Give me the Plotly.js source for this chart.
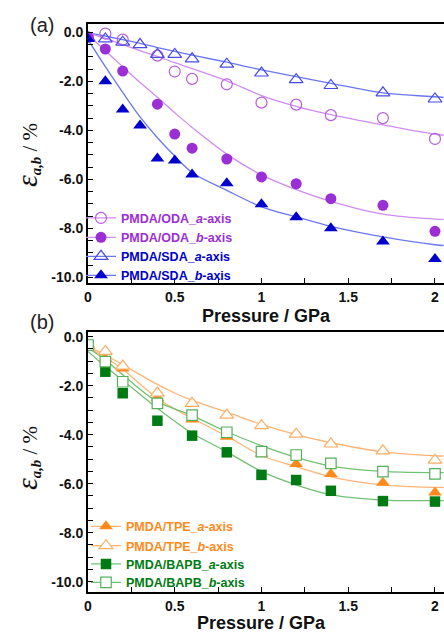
<!DOCTYPE html>
<html>
<head>
<meta charset="utf-8">
<script src="https://cdn.plot.ly/plotly-3.0.1.min.js"></script>
<style>html,body{margin:0;padding:0;background:#fff;}#chart{width:444px;height:632px;}</style>
</head>
<body>
<div id="chart"></div>
<script>
// ---------- Panel (a) data ----------
const xODA = [0, 0.1, 0.2, 0.4, 0.5, 0.6, 0.8, 1.0, 1.2, 1.4, 1.7, 2.0];
const odaA = [-0.2, -0.05, -0.3, -0.95, -1.6, -1.9, -2.12, -2.87, -2.95, -3.38, -3.5, -4.35];
const odaB = [-0.2, -0.68, -1.58, -2.93, -4.15, -4.73, -5.17, -5.9, -6.18, -6.79, -7.06, -8.12];
const xSDA = [0, 0.1, 0.2, 0.3, 0.4, 0.5, 0.6, 0.8, 1.0, 1.2, 1.4, 1.7, 2.0];
const sdaA = [-0.22, -0.27, -0.4, -0.5, -0.9, -0.9, -1.08, -1.3, -1.66, -1.93, -2.17, -2.47, -2.72];
const sdaB = [-0.27, -2.0, -3.15, -3.8, -5.15, -5.23, -5.8, -6.16, -7.02, -7.55, -8.0, -8.54, -9.25];
// fitted curves (a)
const fitXA = [0, 0.1, 0.2, 0.3, 0.4, 0.5, 0.6, 0.8, 1.0, 1.2, 1.4, 1.7, 2.0, 2.05];
const fitOdaA = [-0.02, -0.25, -0.5, -0.75, -0.98, -1.24, -1.48, -1.98, -2.58, -3.02, -3.36, -3.78, -4.16, -4.2];
const fitOdaB = [-0.1, -0.75, -1.4, -2.05, -2.65, -3.28, -3.88, -4.97, -5.82, -6.42, -6.9, -7.42, -7.62, -7.63];
const fitSdaA = [-0.02, -0.15, -0.3, -0.45, -0.62, -0.78, -0.93, -1.22, -1.53, -1.81, -2.08, -2.47, -2.63, -2.66];
const fitSdaB = [-0.3, -1.4, -2.45, -3.45, -4.3, -5.05, -5.72, -6.45, -7.12, -7.53, -7.92, -8.35, -8.67, -8.7];

// ---------- Panel (b) data ----------
const xB = [0, 0.1, 0.2, 0.4, 0.6, 0.8, 1.0, 1.2, 1.4, 1.7, 2.0];
const tpeA = [-0.35, -0.9, -1.3, -2.5, -3.38, -4.08, -4.78, -5.2, -5.6, -5.96, -6.36];
const tpeB = [-0.35, -0.6, -1.2, -2.3, -2.72, -3.2, -3.63, -3.98, -4.38, -4.66, -5.04];
const bapbA = [-0.35, -1.43, -2.31, -3.43, -4.04, -4.72, -5.64, -5.85, -6.29, -6.71, -6.73];
const bapbB = [-0.34, -1.02, -1.84, -2.72, -3.2, -3.9, -4.69, -4.83, -5.17, -5.51, -5.6];
// fitted curves (b)
const fitXB = [0, 0.1, 0.2, 0.3, 0.4, 0.5, 0.6, 0.8, 1.0, 1.2, 1.4, 1.7, 2.0, 2.05];
const fitTpeA = [-0.43, -0.85, -1.33, -1.93, -2.52, -2.95, -3.33, -4.06, -4.85, -5.3, -5.72, -6.05, -6.15, -6.15];
const fitTpeB = [-0.4, -0.75, -1.15, -1.55, -1.95, -2.3, -2.6, -3.08, -3.58, -4.0, -4.33, -4.7, -4.86, -4.87];
const fitBapbA = [-0.6, -1.22, -1.78, -2.35, -2.92, -3.45, -3.94, -4.7, -5.5, -6.05, -6.45, -6.67, -6.69, -6.69];
const fitBapbB = [-0.45, -0.95, -1.55, -2.15, -2.65, -2.95, -3.22, -3.88, -4.45, -4.93, -5.28, -5.5, -5.55, -5.55];

// ---------- labels ----------
const xTickVals = [0, 0.5, 1, 1.5, 2];
const xTickText = ["0", "0.5", "1", "1.5", "2"];
const yTickVals = [0, -2, -4, -6, -8, -10];
const yTickText = ["0.0", "-2.0", "-4.0", "-6.0", "-8.0", "-10.0"];
const xTitle = "Pressure / GPa";
const yTitle = '<span style="font-size:30px"><i>ε</i></span><sub><b><i>a,b</i></b></sub> / %';
const namesA = ["PMDA/ODA_<i>a</i>-axis", "PMDA/ODA_<i>b</i>-axis", "PMDA/SDA_<i>a</i>-axis", "PMDA/SDA_<i>b</i>-axis"];
const namesB = ["PMDA/TPE_<i>a</i>-axis", "PMDA/TPE_<i>b</i>-axis", "PMDA/BAPB_<i>a</i>-axis", "PMDA/BAPB_<i>b</i>-axis"];

const C = {
  purple: '#9a2fd6', purpleOpen: '#b65fe0', purpleLine: '#cf8cef',
  blue: '#0000cc', blueOpen: '#4a4ae8', blueLine: '#6a78ee',
  orange: '#ff8a1c', orangeOpen: '#ffae63', orangeLine: '#ffb477',
  green: '#007a12', greenOpen: '#55b05a', greenLine: '#72c074'
};

const traces = [];
function fit(x, y, color, xa, ya) {
  traces.push({x: x, y: y, mode: 'lines', line: {color: color, width: 1.3, shape: 'spline'}, showlegend: false, hoverinfo: 'skip', xaxis: xa, yaxis: ya});
}
// style: 'filled' | 'open' (transparent) | 'white' (white-filled outline)
function mk(sym, size, color, style) {
  if (style === 'filled') return {symbol: sym, size: size, color: color, line: {width: 0}};
  if (style === 'open') return {symbol: sym + '-open', size: size, color: color, line: {color: color, width: 1.2}};
  return {symbol: sym, size: size, color: '#ffffff', line: {color: color, width: 1.2}};
}
function pts(x, y, marker, xa, ya) {
  traces.push({x: x, y: y, mode: 'markers', showlegend: false, xaxis: xa, yaxis: ya, marker: marker});
}
function leg(name, marker, lineColor, xa, ya, legendId) {
  traces.push({x: [null], y: [null], mode: 'lines+markers', name: name, legend: legendId, xaxis: xa, yaxis: ya,
    line: {color: lineColor, width: 1.3}, marker: marker});
}

// panel (a)
fit(fitXA, fitSdaA, C.blueLine, 'x', 'y');
fit(fitXA, fitOdaA, C.purpleLine, 'x', 'y');
fit(fitXA, fitOdaB, C.purpleLine, 'x', 'y');
fit(fitXA, fitSdaB, C.blueLine, 'x', 'y');
pts(xODA, odaA, mk('circle', 11, C.purpleOpen, 'open'), 'x', 'y');
pts(xSDA, sdaA, mk('triangle-up', 12, C.blueOpen, 'open'), 'x', 'y');
pts(xODA, odaB, mk('circle', 11, C.purple, 'filled'), 'x', 'y');
pts(xSDA, sdaB, mk('triangle-up', 12, C.blue, 'filled'), 'x', 'y');
leg(namesA[0], mk('circle', 11, C.purpleOpen, 'open'), C.purpleLine, 'x', 'y', 'legend');
leg(namesA[1], mk('circle', 11, C.purple, 'filled'), C.purpleLine, 'x', 'y', 'legend2');
leg(namesA[2], mk('triangle-up', 12, C.blueOpen, 'open'), C.blueLine, 'x', 'y', 'legend3');
leg(namesA[3], mk('triangle-up', 12, C.blue, 'filled'), C.blueLine, 'x', 'y', 'legend4');

// panel (b)
fit(fitXB, fitTpeB, C.orangeLine, 'x2', 'y2');
fit(fitXB, fitTpeA, C.orangeLine, 'x2', 'y2');
fit(fitXB, fitBapbB, C.greenLine, 'x2', 'y2');
fit(fitXB, fitBapbA, C.greenLine, 'x2', 'y2');
pts(xB, tpeA, mk('triangle-up', 12, C.orange, 'filled'), 'x2', 'y2');
pts(xB, bapbA, mk('square', 10.5, C.green, 'filled'), 'x2', 'y2');
pts(xB, tpeB, mk('triangle-up', 12, C.orangeOpen, 'white'), 'x2', 'y2');
pts(xB, bapbB, mk('square', 10.5, C.greenOpen, 'white'), 'x2', 'y2');
leg(namesB[0], mk('triangle-up', 12, C.orange, 'filled'), C.orangeLine, 'x2', 'y2', 'legend5');
leg(namesB[1], mk('triangle-up', 12, C.orangeOpen, 'white'), C.orangeLine, 'x2', 'y2', 'legend6');
leg(namesB[2], mk('square', 10.5, C.green, 'filled'), C.greenLine, 'x2', 'y2', 'legend7');
leg(namesB[3], mk('square', 10.5, C.greenOpen, 'white'), C.greenLine, 'x2', 'y2', 'legend8');

// ---------- layout ----------
const W = 444, H = 632, ML = 88, MR = 0, MT = 24, MB = 40;
const PH = H - MT - MB, PW = W - ML - MR;
const py = v => (H - MB - v) / PH;   // pixel y -> paper
const px = v => (v - ML) / PW;       // pixel x -> paper

const SANS = 'Liberation Sans, Arial, sans-serif';
const tickFont = {family: SANS, size: 14, color: '#111', weight: 'bold'};
const titleFont = {family: SANS, size: 18, color: '#111', weight: 'bold'};

function xAxis(anchor, withTitle) {
  const ax = {
    anchor: anchor, range: [0, 2.052], tickmode: 'array', tickvals: xTickVals, ticktext: xTickText,
    ticks: 'inside', ticklen: 5, tickwidth: 1, tickcolor: '#000',
    minor: {tickmode: 'linear', tick0: 0, dtick: 0.25, ticks: 'inside', ticklen: 5, tickcolor: '#000', showgrid: false},
    showline: true, linecolor: '#000', linewidth: 2, mirror: true, showgrid: false, zeroline: false,
    tickfont: tickFont
  };
  if (withTitle) ax.title = {text: xTitle, font: titleFont, standoff: 6};
  return ax;
}
function yAxis(anchor, domain, range) {
  return {
    anchor: anchor, domain: domain, range: range, tickmode: 'array', tickvals: yTickVals, ticktext: yTickText,
    ticks: 'inside', ticklen: 5, tickwidth: 1, tickcolor: '#000',
    minor: {tickmode: 'linear', tick0: 0, dtick: 0.5, ticks: 'inside', ticklen: 5, tickcolor: '#000', showgrid: false},
    showline: true, linecolor: '#000', linewidth: 2, showgrid: false, zeroline: false,
    tickfont: tickFont
  };
}
function legendAt(xpix, ypix, color) {
  return {x: px(xpix), y: py(ypix), xanchor: 'left', yanchor: 'middle', bgcolor: 'rgba(0,0,0,0)', borderwidth: 0,
    font: {family: SANS, size: 12.5, color: color, weight: 'bold'}, itemclick: false};
}
function yTitleAnn(ycenter) {
  return {text: yTitle, xref: 'paper', yref: 'paper', x: px(27), y: py(ycenter), showarrow: false, textangle: -90,
    xanchor: 'center', yanchor: 'middle', font: {family: 'Liberation Serif, Times New Roman, serif', size: 21, color: '#111'}};
}

const layout = {
  width: W, height: H, margin: {l: ML, r: MR, t: MT, b: MB},
  paper_bgcolor: '#fff', plot_bgcolor: '#fff',
  xaxis: xAxis('y', true),
  yaxis: yAxis('x', [py(283), 1], [-10.23, 0.34]),
  xaxis2: xAxis('y2', false),
  yaxis2: yAxis('x2', [0, py(332)], [-10.42, 0.19]),
  legend: legendAt(81, 218.3, C.purple),
  legend2: legendAt(81, 237.7, C.purple),
  legend3: legendAt(81, 256.7, C.blue),
  legend4: legendAt(81, 275.7, C.blue),
  legend5: legendAt(86, 526.7, C.orange),
  legend6: legendAt(86, 546, C.orange),
  legend7: legendAt(86, 564.3, C.green),
  legend8: legendAt(86, 582.7, C.green),
  annotations: [
    {text: '(a)', xref: 'paper', yref: 'paper', x: px(42), y: py(25), showarrow: false, xanchor: 'center', yanchor: 'middle',
     font: {family: SANS, size: 20, color: '#222'}},
    {text: '(b)', xref: 'paper', yref: 'paper', x: px(42), y: py(322), showarrow: false, xanchor: 'center', yanchor: 'middle',
     font: {family: SANS, size: 20, color: '#222'}},
    {text: xTitle, xref: 'paper', yref: 'paper', x: px(261), y: py(623), showarrow: false, xanchor: 'center', yanchor: 'middle',
     font: titleFont},
    yTitleAnn(155),
    yTitleAnn(458)
  ],
  showlegend: true
};

Plotly.newPlot('chart', traces, layout, {staticPlot: true, displayModeBar: false});
</script>
</body>
</html>
